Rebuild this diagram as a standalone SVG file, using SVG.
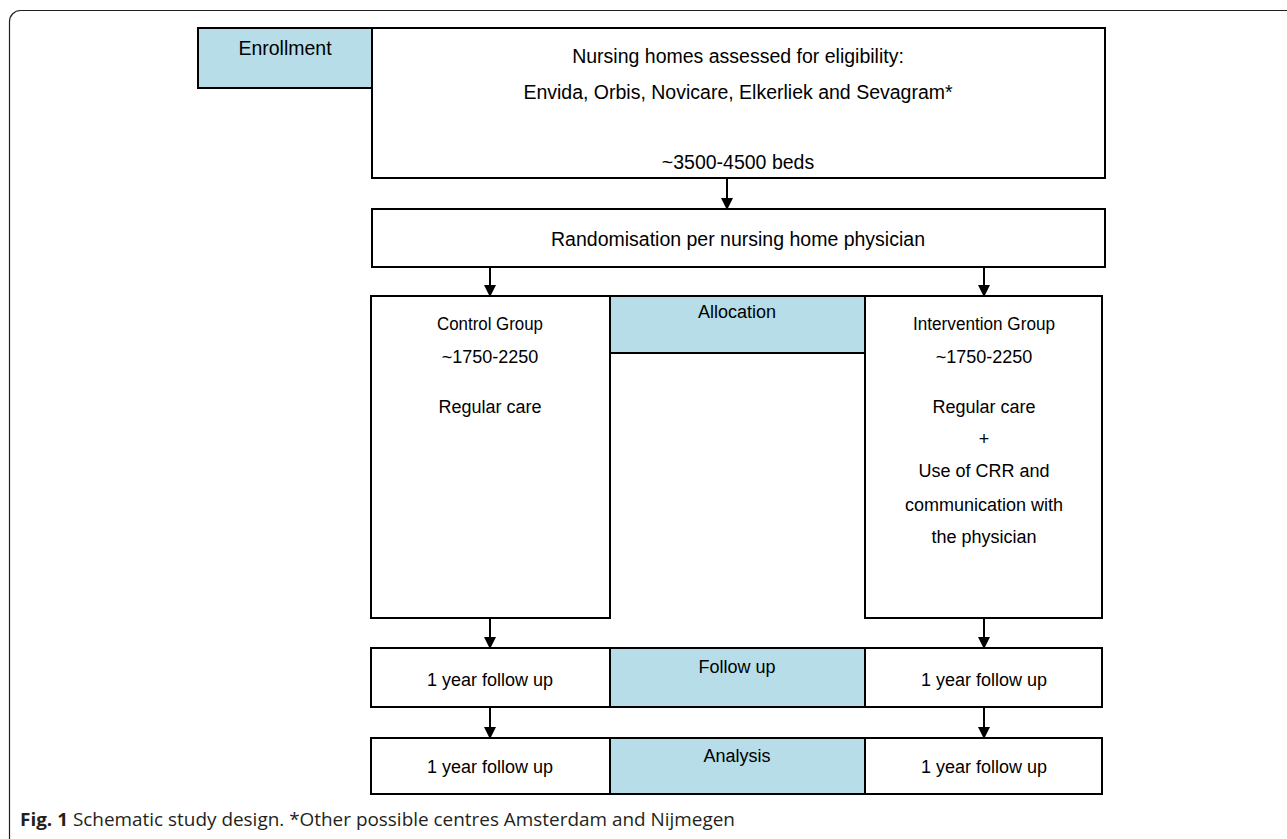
<svg xmlns="http://www.w3.org/2000/svg" width="1287" height="839" viewBox="0 0 1287 839">
<defs>
<marker id="arr" markerWidth="12" markerHeight="12" viewBox="0 0 12 12" refX="11" refY="6" orient="auto" markerUnits="userSpaceOnUse">
<path d="M0,0 L12,6 L0,12 Z" fill="#000"/>
</marker>
<style>
.box{fill:#fff;stroke:#000;stroke-width:2}
.lab{fill:#b7dde8;stroke:#000;stroke-width:2}
.t{font-family:"Liberation Sans",Arial,sans-serif;font-size:18px;fill:#000;text-anchor:middle}
.tb{font-family:"Liberation Sans",Arial,sans-serif;font-size:19.5px;fill:#000;text-anchor:middle}
.c{stroke:#000;stroke-width:2;fill:none;marker-end:url(#arr)}
.cap{font-family:"Open Sans","Noto Sans",sans-serif;font-size:18px;fill:#231f20}
</style>
</defs>
<rect x="9.5" y="10.5" width="1300" height="840" rx="11" fill="#fff" stroke="#231f20" stroke-width="1.2"/>
<g id="enrollment"><rect class="lab" x="198" y="28" width="174" height="60"/><text class="tb" x="285" y="55">Enrollment</text></g>
<g id="eligibility"><rect class="box" x="372" y="28" width="733" height="150"/>
<text class="tb" x="738" y="63">Nursing homes assessed for eligibility:</text>
<text class="tb" x="738" y="99">Envida, Orbis, Novicare, Elkerliek and Sevagram*</text>
<text class="tb" x="738" y="169">~3500-4500 beds</text></g>
<g id="randomisation"><rect class="box" x="372" y="209" width="733" height="58"/><text class="tb" x="738" y="246">Randomisation per nursing home physician</text></g>
<g id="control"><rect class="box" x="371" y="296" width="239" height="322"/>
<text class="t" x="490" y="330" textLength="106" lengthAdjust="spacingAndGlyphs">Control Group</text>
<text class="t" x="490" y="363">~1750-2250</text>
<text class="t" x="490" y="413">Regular care</text></g>
<g id="allocation"><rect class="lab" x="610" y="296" width="255" height="57"/><text class="t" x="737" y="318">Allocation</text></g>
<g id="intervention"><rect class="box" x="865" y="296" width="237" height="322"/>
<text class="t" x="984" y="330" textLength="142" lengthAdjust="spacingAndGlyphs">Intervention Group</text>
<text class="t" x="984" y="363">~1750-2250</text>
<text class="t" x="984" y="413">Regular care</text>
<text class="t" x="984" y="445">+</text>
<text class="t" x="984" y="477">Use of CRR and</text>
<text class="t" x="984" y="511">communication with</text>
<text class="t" x="984" y="543">the physician</text></g>
<g id="fu-control"><rect class="box" x="371" y="648" width="239" height="59"/><text class="t" x="490" y="686">1 year follow up</text></g>
<g id="followup"><rect class="lab" x="610" y="648" width="255" height="59"/><text class="t" x="737" y="673">Follow up</text></g>
<g id="fu-intervention"><rect class="box" x="865" y="648" width="237" height="59"/><text class="t" x="984" y="686">1 year follow up</text></g>
<g id="an-control"><rect class="box" x="371" y="738" width="239" height="56"/><text class="t" x="490" y="773">1 year follow up</text></g>
<g id="analysis"><rect class="lab" x="610" y="738" width="255" height="56"/><text class="t" x="737" y="762">Analysis</text></g>
<g id="an-intervention"><rect class="box" x="865" y="738" width="237" height="56"/><text class="t" x="984" y="773">1 year follow up</text></g>
<g id="connectors">
<line class="c" x1="727" y1="178" x2="727" y2="209"/>
<line class="c" x1="490" y1="267" x2="490" y2="296"/>
<line class="c" x1="984" y1="267" x2="984" y2="296"/>
<line class="c" x1="490" y1="618" x2="490" y2="648"/>
<line class="c" x1="984" y1="618" x2="984" y2="648"/>
<line class="c" x1="490" y1="707" x2="490" y2="738"/>
<line class="c" x1="984" y1="707" x2="984" y2="738"/>
</g>
<text class="cap" x="20" y="826" textLength="715" lengthAdjust="spacingAndGlyphs"><tspan font-weight="bold">Fig. 1</tspan> Schematic study design. *Other possible centres Amsterdam and Nijmegen</text>
</svg>
